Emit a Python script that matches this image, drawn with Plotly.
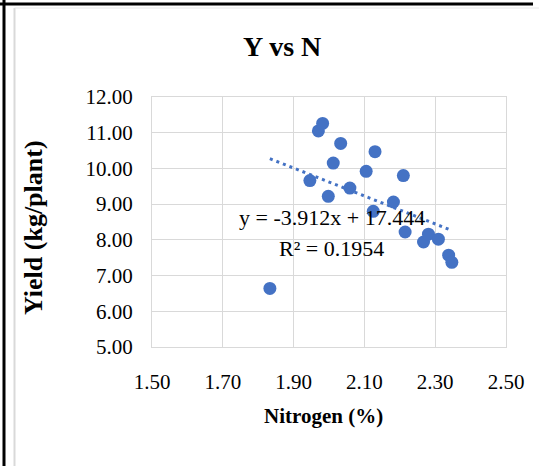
import plotly.graph_objects as go

# ---- data ----
nitrogen = [1.833, 1.946, 1.970, 1.982, 1.998, 2.012, 2.033, 2.059, 2.105, 2.125,
            2.130, 2.182, 2.210, 2.215, 2.267, 2.281, 2.309, 2.338, 2.347]
yield_kg = [6.64, 9.66, 11.05, 11.26, 9.22, 10.15, 10.70, 9.45, 9.92, 8.80,
            10.47, 9.06, 9.80, 8.22, 7.94, 8.16, 8.02, 7.57, 7.37]
trend_slope = -3.912
trend_intercept = 17.444
equation_text = "y = -3.912x + 17.444"
r2_text = "R² = 0.1954"
title_text = "<b>Y vs N</b>"
x_title = "<b>Nitrogen (%)</b>"
y_title = "<b>Yield (kg/plant)</b>"

# ---- layout geometry ----
W, H = 539, 466
L, R, T, B = 152, 33, 97, 119
PW, PH = W - L - R, H - T - B
FONT = "Liberation Serif, Times New Roman, serif"


def px(xp):
    return (xp - L) / PW


def py(yp):
    return (H - B - yp) / PH


trend_x = [min(nitrogen), max(nitrogen)]
trend_y = [trend_slope * v + trend_intercept for v in trend_x]

fig = go.Figure()
fig.add_trace(go.Scatter(
    x=trend_x, y=trend_y, mode="lines",
    line=dict(color="#4472C4", width=3, dash="3px,4px"),
    hoverinfo="skip", showlegend=False))
fig.add_trace(go.Scatter(
    x=nitrogen, y=yield_kg, mode="markers",
    marker=dict(color="#4472C4", size=13, line=dict(width=0)),
    showlegend=False))

axis_common = dict(
    showgrid=True, gridcolor="#d9d9d9", gridwidth=1,
    showline=True, linecolor="#d9d9d9", linewidth=1, mirror=True,
    zeroline=False, ticks="", tickformat=".2f",
    tickfont=dict(family=FONT, size=21, color="black"),
)

fig.update_layout(
    width=W, height=H,
    margin=dict(l=L, r=R, t=T, b=B, pad=0),
    paper_bgcolor="white", plot_bgcolor="white",
    font=dict(family=FONT, color="black"),
    xaxis=dict(range=[1.5, 2.5], dtick=0.2, tick0=1.5,
               ticklabelstandoff=16, **axis_common),
    yaxis=dict(range=[5, 12], dtick=1, tick0=5,
               ticklabelstandoff=14, **axis_common),
    annotations=[
        dict(text=title_text, x=px(282), y=py(46), xref="paper", yref="paper",
             showarrow=False, font=dict(family=FONT, size=28, color="black"),
             xanchor="center", yanchor="middle"),
        dict(text=x_title, x=px(323), y=py(416), xref="paper", yref="paper",
             showarrow=False, font=dict(family=FONT, size=21, color="black"),
             xanchor="center", yanchor="middle"),
        dict(text=y_title, x=px(33), y=py(228), xref="paper", yref="paper",
             showarrow=False, textangle=-90,
             font=dict(family=FONT, size=26, color="black"),
             xanchor="center", yanchor="middle"),
        dict(text=equation_text, x=px(332), y=py(217), xref="paper", yref="paper",
             showarrow=False, font=dict(family=FONT, size=22, color="black"),
             xanchor="center", yanchor="middle"),
        dict(text=r2_text, x=px(331), y=py(248), xref="paper", yref="paper",
             showarrow=False, font=dict(family=FONT, size=22, color="black"),
             xanchor="center", yanchor="middle"),
    ],
    shapes=[
        # outer black frame lines (top and left)
        dict(type="line", xref="paper", yref="paper",
             x0=px(0), x1=px(533), y0=py(4), y1=py(4),
             line=dict(color="black", width=3)),
        dict(type="line", xref="paper", yref="paper",
             x0=px(4), x1=px(4), y0=py(0), y1=py(466),
             line=dict(color="black", width=3)),
        # light gray chart-area border
        dict(type="line", xref="paper", yref="paper",
             x0=px(14.5), x1=px(14.5), y0=py(8), y1=py(466),
             line=dict(color="#d9d9d9", width=2)),
        dict(type="line", xref="paper", yref="paper",
             x0=px(14.5), x1=px(539), y0=py(8), y1=py(8),
             line=dict(color="#e6e6e6", width=1)),
    ],
)

fig.write_html(
    "out.html",
    config={"displayModeBar": False},
    post_script="document.body.style.margin='0';document.body.style.overflow='hidden';",
)
